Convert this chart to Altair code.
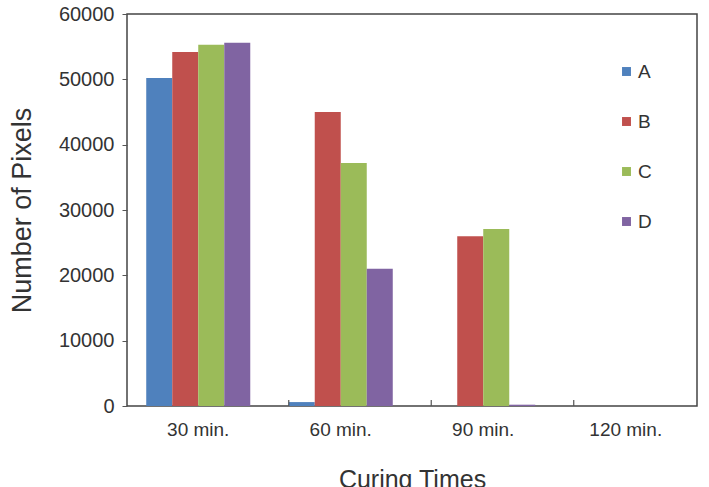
import altair as alt
import pandas as pd

times = ["30 min.", "60 min.", "90 min.", "120 min."]
series = ["A", "B", "C", "D"]
vals_A = [50200, 600, 0, 0]
vals_B = [54200, 45000, 26000, 0]
vals_C = [55300, 37200, 27100, 0]
vals_D = [55600, 21000, 200, 0]
colors = ["#4F81BD", "#C0504D", "#9BBB59", "#8064A2"]
y_ticks = [0, 10000, 20000, 30000, 40000, 50000, 60000]

rows = []
for s, vals in zip(series, [vals_A, vals_B, vals_C, vals_D]):
    for t, v in zip(times, vals):
        rows.append({"time": t, "series": s, "value": v})
df = pd.DataFrame(rows)
bounds = pd.DataFrame({"time": times[1:]})

W, H = 570, 392
FONT = "Liberation Sans"

xscale = alt.Scale(domain=times, paddingInner=0.27, paddingOuter=0.135)

bars = alt.Chart(df).mark_bar().encode(
    x=alt.X("time:N", scale=xscale, sort=times,
            axis=alt.Axis(title="Curing Times", labelAngle=0, ticks=False,
                          domain=False, labelPadding=14, labelFontSize=19,
                          titleFontSize=25, titlePadding=28, titleFontWeight="normal")),
    xOffset=alt.XOffset("series:N", sort=series),
    y=alt.Y("value:Q", scale=alt.Scale(domain=[0, 60000], nice=False),
            axis=alt.Axis(title="Number of Pixels", values=y_ticks, format="d",
                          grid=False, tickSize=5, labelPadding=8, labelFontSize=20,
                          titleFontSize=27, titlePadding=22, titleFontWeight="normal",
                          domain=False)),
    color=alt.Color("series:N", sort=series,
                    scale=alt.Scale(domain=series, range=colors),
                    legend=alt.Legend(title=None, orient="none", legendX=490, legendY=48,
                                      symbolType="square", symbolSize=80,
                                      symbolStrokeWidth=0, labelFontSize=19,
                                      rowPadding=30, labelOffset=2)),
)

ticks = alt.Chart(bounds).mark_rule(color="#555555", strokeWidth=1.2).encode(
    x=alt.X("time:N", scale=xscale, bandPosition=0),
    y=alt.value(H),
    y2=alt.value(H - 6),
)

chart = alt.layer(bars, ticks).properties(
    width=W, height=H,
    autosize=alt.AutoSizeParams(type="none"),
    padding={"left": 127, "top": 14, "right": 12, "bottom": 81},
).configure_view(
    stroke="#444444", strokeWidth=1.5
).configure_axis(
    labelFont=FONT, titleFont=FONT, labelColor="#333333", titleColor="#333333",
    tickColor="#555555"
).configure_legend(
    labelFont=FONT, labelColor="#333333"
)

chart.save("out.html", embed_options={"renderer": "svg", "actions": False})
